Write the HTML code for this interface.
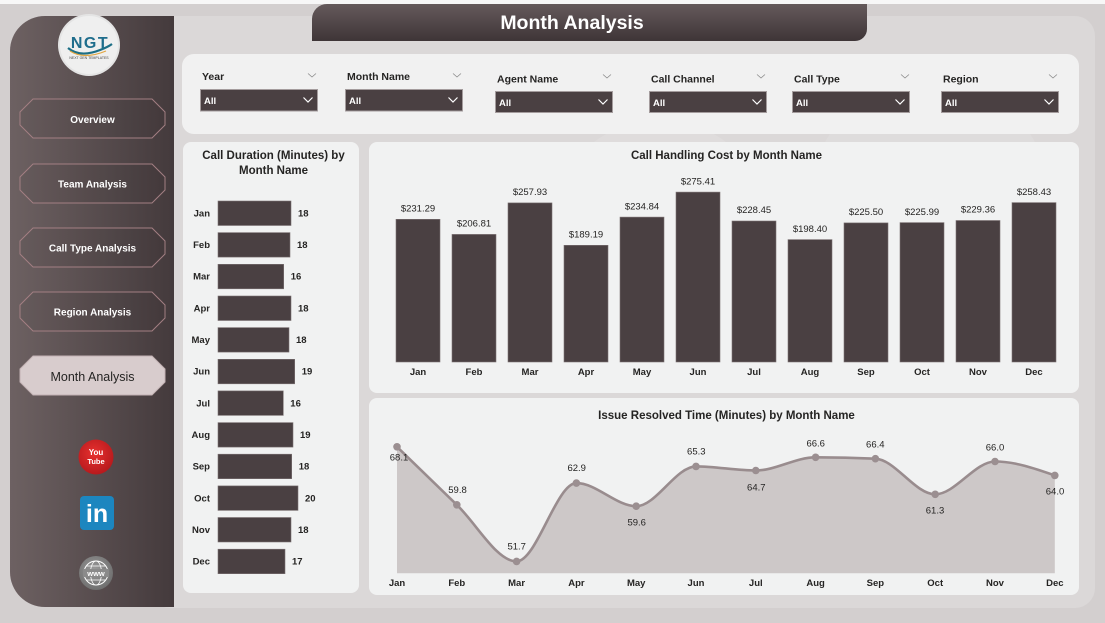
<!DOCTYPE html>
<html>
<head>
<meta charset="utf-8">
<style>
  html,body{margin:0;padding:0;width:1105px;height:623px;overflow:hidden;background:#d3cfcf;}
  svg{display:block;font-family:"Liberation Sans",Arial,sans-serif;}
  .lbl{font-size:10.5px;font-weight:bold;fill:#252423;}
  .all{font-size:9.5px;font-weight:bold;fill:#ffffff;}
  .ttl{font-size:11.5px;font-weight:bold;fill:#252423;}
  .ax{font-size:9.5px;font-weight:bold;fill:#252423;}
  .val{font-size:9.5px;fill:#252423;}
  .vb{font-size:9.5px;font-weight:bold;fill:#252423;}
  .btn{font-size:10px;font-weight:bold;fill:#ffffff;}
</style>
</head>
<body>
<svg width="1105" height="623" viewBox="0 0 1105 623" xmlns="http://www.w3.org/2000/svg">
  <defs>
    <linearGradient id="side" x1="0" y1="0" x2="1" y2="0">
      <stop offset="0" stop-color="#6d6162"/>
      <stop offset="1" stop-color="#443a3c"/>
    </linearGradient>
    <linearGradient id="ban" x1="0" y1="0" x2="0" y2="1">
      <stop offset="0" stop-color="#655a5b"/>
      <stop offset="1" stop-color="#3e3537"/>
    </linearGradient>
    <radialGradient id="yt" cx="0.45" cy="0.4" r="0.6">
      <stop offset="0" stop-color="#e8302f"/>
      <stop offset="1" stop-color="#b71a1d"/>
    </radialGradient>
    <radialGradient id="www" cx="0.45" cy="0.4" r="0.6">
      <stop offset="0" stop-color="#9a9a9a"/>
      <stop offset="1" stop-color="#6f6f6f"/>
    </radialGradient>
  </defs>

  <!-- background -->
  <rect x="0" y="0" width="1105" height="623" fill="#d3cfcf"/>
  <rect x="0" y="0" width="1105" height="4" fill="#f7f7f7"/>
  <!-- main container -->
  <rect x="150" y="16" width="945" height="592" rx="20" fill="#dbd8d8"/>

  <!-- faint decorative circles -->
  <circle cx="660" cy="230" r="110" fill="#ffffff" opacity="0.12"/>
  <circle cx="930" cy="200" r="120" fill="#ffffff" opacity="0.10"/>

  <!-- sidebar -->
  <path d="M45,16 H174 V607 H45 A35,35 0 0 1 10,572 V51 A35,35 0 0 1 45,16 Z" fill="url(#side)"/>

  <!-- logo -->
  <circle cx="89" cy="45" r="31" fill="#e4e4e4"/>
  <circle cx="89" cy="45" r="29" fill="#efefef"/>
  <path d="M68,48 Q80,58 100,50 Q108,47 112,44" stroke="#1d6f86" stroke-width="2.2" fill="none"/>
  <path d="M70,51 Q84,60 106,51" stroke="#e2a640" stroke-width="1.2" fill="none"/>
  <text x="90" y="48" text-anchor="middle" font-size="16" font-weight="bold" fill="#1f6d8c" letter-spacing="1.5">NGT</text>
  <text x="89" y="59" text-anchor="middle" font-size="3.5" fill="#444">NEXT GEN TEMPLATES</text>

  <!-- title banner -->
  <path d="M327,4 H867 V29 A12,12 0 0 1 855,41 H312 V19 A15,15 0 0 1 327,4 Z" fill="url(#ban)"/>
  <text x="572" y="29" text-anchor="middle" font-size="19.5" font-weight="bold" fill="#ffffff">Month Analysis</text>

  <!-- nav buttons -->
  <g stroke="#a37f83" stroke-width="1" fill="rgba(0,0,0,0.04)">
    <polygon points="33,99 152,99 165,112 165,125 152,138 33,138 20,125 20,112"/>
    <polygon points="33,164 152,164 165,177 165,190 152,203 33,203 20,190 20,177"/>
    <polygon points="33,228 152,228 165,241 165,254 152,267 33,267 20,254 20,241"/>
    <polygon points="33,292 152,292 165,305 165,318 152,331 33,331 20,318 20,305"/>
  </g>
  <polygon points="33,356 152,356 165,369 165,382 152,395 33,395 20,382 20,369" fill="#d8cccd" stroke="#c2b1b3" stroke-width="1"/>
  <text class="btn" x="92.5" y="123" text-anchor="middle">Overview</text>
  <text class="btn" x="92.5" y="187.5" text-anchor="middle">Team Analysis</text>
  <text class="btn" x="92.5" y="251.5" text-anchor="middle">Call Type Analysis</text>
  <text class="btn" x="92.5" y="315.5" text-anchor="middle">Region Analysis</text>
  <text x="92.5" y="381" text-anchor="middle" font-size="12.5" fill="#252423">Month Analysis</text>

  <!-- social icons -->
  <circle cx="96" cy="457" r="17.5" fill="url(#yt)"/>
  <text x="96" y="455" text-anchor="middle" font-size="8" font-weight="bold" fill="#fff">You</text>
  <text x="96" y="464" text-anchor="middle" font-size="7.5" font-weight="bold" fill="#fff">Tube</text>
  <rect x="80" y="496" width="34" height="34" rx="4" fill="#1c86bf"/>
  <text x="97" y="522" text-anchor="middle" font-size="25" font-weight="bold" fill="#fff">in</text>
  <circle cx="96" cy="573" r="17" fill="url(#www)"/>
  <circle cx="96" cy="573" r="12" fill="none" stroke="#fff" stroke-width="1"/>
  <ellipse cx="96" cy="573" rx="5.5" ry="12" fill="none" stroke="#fff" stroke-width="0.8"/>
  <line x1="84" y1="573" x2="108" y2="573" stroke="#fff" stroke-width="0.7"/>
  <line x1="86" y1="566" x2="106" y2="566" stroke="#fff" stroke-width="0.7"/>
  <line x1="86" y1="580" x2="106" y2="580" stroke="#fff" stroke-width="0.7"/>
  <rect x="83" y="569" width="26" height="8" fill="#8a8a8a"/>
  <text x="96" y="576" text-anchor="middle" font-size="7.5" font-weight="bold" fill="#fff">www</text>

  <!-- filter panel -->
  <rect x="182" y="54" width="897" height="80" rx="12" fill="#f1f1f1"/>
  <g>
    <text class="lbl" x="202" y="80">Year</text>
    <polyline points="308,73.5 312,77 316,73.5" fill="none" stroke="#8a8a8a" stroke-width="0.8"/>
    <rect x="200.5" y="89.5" width="117" height="21.5" fill="#4a4042" stroke="#a49c9d" stroke-width="1"/>
    <text class="all" x="204" y="104">All</text>
    <polyline points="303.5,97.5 308,102 312.5,97.5" fill="none" stroke="#fff" stroke-width="1.2"/>

    <text class="lbl" x="347" y="80">Month Name</text>
    <polyline points="453,73.5 457,77 461,73.5" fill="none" stroke="#8a8a8a" stroke-width="0.8"/>
    <rect x="345.5" y="89.5" width="117" height="21.5" fill="#4a4042" stroke="#a49c9d" stroke-width="1"/>
    <text class="all" x="349" y="104">All</text>
    <polyline points="448.5,97.5 453,102 457.5,97.5" fill="none" stroke="#fff" stroke-width="1.2"/>

    <text class="lbl" x="497" y="82.5">Agent Name</text>
    <polyline points="603,74.5 607,78 611,74.5" fill="none" stroke="#8a8a8a" stroke-width="0.8"/>
    <rect x="495.5" y="91.5" width="117" height="21" fill="#4a4042" stroke="#a49c9d" stroke-width="1"/>
    <text class="all" x="499" y="106">All</text>
    <polyline points="598.5,99.5 603,104 607.5,99.5" fill="none" stroke="#fff" stroke-width="1.2"/>

    <text class="lbl" x="651" y="82.5">Call Channel</text>
    <polyline points="757,74.5 761,78 765,74.5" fill="none" stroke="#8a8a8a" stroke-width="0.8"/>
    <rect x="649.5" y="91.5" width="117" height="21" fill="#4a4042" stroke="#a49c9d" stroke-width="1"/>
    <text class="all" x="653" y="106">All</text>
    <polyline points="752.5,99.5 757,104 761.5,99.5" fill="none" stroke="#fff" stroke-width="1.2"/>

    <text class="lbl" x="794" y="82.5">Call Type</text>
    <polyline points="901,74.5 905,78 909,74.5" fill="none" stroke="#8a8a8a" stroke-width="0.8"/>
    <rect x="792.5" y="91.5" width="117" height="21" fill="#4a4042" stroke="#a49c9d" stroke-width="1"/>
    <text class="all" x="796" y="106">All</text>
    <polyline points="895.5,99.5 900,104 904.5,99.5" fill="none" stroke="#fff" stroke-width="1.2"/>

    <text class="lbl" x="943" y="82.5">Region</text>
    <polyline points="1049,74.5 1053,78 1057,74.5" fill="none" stroke="#8a8a8a" stroke-width="0.8"/>
    <rect x="941.5" y="91.5" width="117" height="21" fill="#4a4042" stroke="#a49c9d" stroke-width="1"/>
    <text class="all" x="945" y="106">All</text>
    <polyline points="1044.5,99.5 1049,104 1053.5,99.5" fill="none" stroke="#fff" stroke-width="1.2"/>
  </g>

  <!-- left panel: horizontal bars -->
  <rect x="183" y="142" width="176" height="451" rx="8" fill="#f1f2f2"/>
  <text class="ttl" x="273.5" y="159" text-anchor="middle">Call Duration (Minutes) by</text>
  <text class="ttl" x="273.5" y="174" text-anchor="middle">Month Name</text>
  <g fill="#4a4042" stroke="#7d7375" stroke-width="0.6">
    <rect x="218" y="201" width="73" height="24.5"/>
    <rect x="218" y="232.6" width="72" height="24.5"/>
    <rect x="218" y="264.3" width="65.7" height="24.5"/>
    <rect x="218" y="296" width="73" height="24.5"/>
    <rect x="218" y="327.6" width="71" height="24.5"/>
    <rect x="218" y="359.3" width="76.7" height="24.5"/>
    <rect x="218" y="390.9" width="65.3" height="24.5"/>
    <rect x="218" y="422.6" width="75" height="24.5"/>
    <rect x="218" y="454.2" width="73.7" height="24.5"/>
    <rect x="218" y="485.9" width="80" height="24.5"/>
    <rect x="218" y="517.5" width="73" height="24.5"/>
    <rect x="218" y="549.2" width="67" height="24.5"/>
  </g>
  <g text-anchor="end">
    <text class="ax" x="210" y="216.5">Jan</text>
    <text class="ax" x="210" y="248">Feb</text>
    <text class="ax" x="210" y="279.7">Mar</text>
    <text class="ax" x="210" y="311.4">Apr</text>
    <text class="ax" x="210" y="343">May</text>
    <text class="ax" x="210" y="374.7">Jun</text>
    <text class="ax" x="210" y="406.3">Jul</text>
    <text class="ax" x="210" y="438">Aug</text>
    <text class="ax" x="210" y="469.6">Sep</text>
    <text class="ax" x="210" y="501.3">Oct</text>
    <text class="ax" x="210" y="532.9">Nov</text>
    <text class="ax" x="210" y="564.6">Dec</text>
  </g>
  <g>
    <text class="vb" x="298" y="216.5">18</text>
    <text class="vb" x="297" y="248">18</text>
    <text class="vb" x="290.7" y="279.7">16</text>
    <text class="vb" x="298" y="311.4">18</text>
    <text class="vb" x="296" y="343">18</text>
    <text class="vb" x="301.7" y="374.7">19</text>
    <text class="vb" x="290.3" y="406.3">16</text>
    <text class="vb" x="300" y="438">19</text>
    <text class="vb" x="298.7" y="469.6">18</text>
    <text class="vb" x="305" y="501.3">20</text>
    <text class="vb" x="298" y="532.9">18</text>
    <text class="vb" x="292" y="564.6">17</text>
  </g>

  <!-- bar chart panel -->
  <rect x="369" y="142" width="710" height="251" rx="8" fill="#f1f2f2"/>
  <text class="ttl" x="726.5" y="159" text-anchor="middle">Call Handling Cost by Month Name</text>
  <g fill="#4a4042" stroke="#7d7375" stroke-width="0.6">
    <rect x="396" y="219.3" width="44" height="142.7"/>
    <rect x="452" y="234.4" width="44" height="127.6"/>
    <rect x="508" y="202.9" width="44" height="159.1"/>
    <rect x="564" y="245.3" width="44" height="116.7"/>
    <rect x="620" y="217.1" width="44" height="144.9"/>
    <rect x="676" y="192.1" width="44" height="169.9"/>
    <rect x="732" y="221" width="44" height="141"/>
    <rect x="788" y="239.6" width="44" height="122.4"/>
    <rect x="844" y="222.9" width="44" height="139.1"/>
    <rect x="900" y="222.6" width="44" height="139.4"/>
    <rect x="956" y="220.5" width="44" height="141.5"/>
    <rect x="1012" y="202.6" width="44" height="159.4"/>
  </g>
  <g text-anchor="middle">
    <text class="val" x="418" y="211.5">$231.29</text>
    <text class="val" x="474" y="226.6">$206.81</text>
    <text class="val" x="530" y="195.1">$257.93</text>
    <text class="val" x="586" y="237.5">$189.19</text>
    <text class="val" x="642" y="209.3">$234.84</text>
    <text class="val" x="698" y="184.3">$275.41</text>
    <text class="val" x="754" y="213.2">$228.45</text>
    <text class="val" x="810" y="231.8">$198.40</text>
    <text class="val" x="866" y="215.1">$225.50</text>
    <text class="val" x="922" y="214.8">$225.99</text>
    <text class="val" x="978" y="212.7">$229.36</text>
    <text class="val" x="1034" y="194.8">$258.43</text>
  </g>
  <g text-anchor="middle">
    <text class="ax" x="418" y="375">Jan</text>
    <text class="ax" x="474" y="375">Feb</text>
    <text class="ax" x="530" y="375">Mar</text>
    <text class="ax" x="586" y="375">Apr</text>
    <text class="ax" x="642" y="375">May</text>
    <text class="ax" x="698" y="375">Jun</text>
    <text class="ax" x="754" y="375">Jul</text>
    <text class="ax" x="810" y="375">Aug</text>
    <text class="ax" x="866" y="375">Sep</text>
    <text class="ax" x="922" y="375">Oct</text>
    <text class="ax" x="978" y="375">Nov</text>
    <text class="ax" x="1034" y="375">Dec</text>
  </g>

  <!-- line chart panel -->
  <rect x="369" y="398" width="710" height="197" rx="8" fill="#f1f2f2"/>
  <text class="ttl" x="726.5" y="419" text-anchor="middle">Issue Resolved Time (Minutes) by Month Name</text>
  <path d="M397,446.8 C416.93,466.25 436.87,485.7 456.8,504.8 C476.73,523.9 496.67,561.4 516.6,561.4 C536.53,561.4 556.47,483.1 576.4,483.1 C596.33,483.1 616.27,506.2 636.2,506.2 C656.13,506.2 676.07,466.4 696,466.4 C715.93,466.4 735.87,470.5 755.8,470.5 C775.73,470.5 795.67,457.3 815.6,457.3 C835.53,457.3 855.47,457.77 875.4,458.7 C895.33,459.63 915.27,494.3 935.2,494.3 C955.13,494.3 975.07,461.5 995,461.5 C1014.93,461.5 1034.87,468.45 1054.8,475.4 L1054.8,573.3 L397,573.3 Z" fill="#cdc8c8"/>
  <path d="M397,446.8 C416.93,466.25 436.87,485.7 456.8,504.8 C476.73,523.9 496.67,561.4 516.6,561.4 C536.53,561.4 556.47,483.1 576.4,483.1 C596.33,483.1 616.27,506.2 636.2,506.2 C656.13,506.2 676.07,466.4 696,466.4 C715.93,466.4 735.87,470.5 755.8,470.5 C775.73,470.5 795.67,457.3 815.6,457.3 C835.53,457.3 855.47,457.77 875.4,458.7 C895.33,459.63 915.27,494.3 935.2,494.3 C955.13,494.3 975.07,461.5 995,461.5 C1014.93,461.5 1034.87,468.45 1054.8,475.4" fill="none" stroke="#998c8e" stroke-width="2.6"/>
  <g fill="#9b8f91">
    <circle cx="397" cy="446.8" r="3.8"/>
    <circle cx="456.8" cy="504.8" r="3.8"/>
    <circle cx="516.6" cy="561.4" r="3.8"/>
    <circle cx="576.4" cy="483.1" r="3.8"/>
    <circle cx="636.2" cy="506.2" r="3.8"/>
    <circle cx="696" cy="466.4" r="3.8"/>
    <circle cx="755.8" cy="470.5" r="3.8"/>
    <circle cx="815.6" cy="457.3" r="3.8"/>
    <circle cx="875.4" cy="458.7" r="3.8"/>
    <circle cx="935.2" cy="494.3" r="3.8"/>
    <circle cx="995" cy="461.5" r="3.8"/>
    <circle cx="1054.8" cy="475.4" r="3.8"/>
  </g>
  <g text-anchor="middle">
    <text class="val" x="399" y="460.5">68.1</text>
    <text class="val" x="457.5" y="493">59.8</text>
    <text class="val" x="516.7" y="549.5">51.7</text>
    <text class="val" x="576.7" y="471">62.9</text>
    <text class="val" x="636.7" y="525.5">59.6</text>
    <text class="val" x="696.3" y="454.5">65.3</text>
    <text class="val" x="756.3" y="490.5">64.7</text>
    <text class="val" x="815.7" y="446.5">66.6</text>
    <text class="val" x="875.3" y="447.5">66.4</text>
    <text class="val" x="935" y="513.5">61.3</text>
    <text class="val" x="995" y="450.5">66.0</text>
    <text class="val" x="1055" y="494.5">64.0</text>
  </g>
  <g text-anchor="middle">
    <text class="ax" x="397" y="586">Jan</text>
    <text class="ax" x="456.8" y="586">Feb</text>
    <text class="ax" x="516.6" y="586">Mar</text>
    <text class="ax" x="576.4" y="586">Apr</text>
    <text class="ax" x="636.2" y="586">May</text>
    <text class="ax" x="696" y="586">Jun</text>
    <text class="ax" x="755.8" y="586">Jul</text>
    <text class="ax" x="815.6" y="586">Aug</text>
    <text class="ax" x="875.4" y="586">Sep</text>
    <text class="ax" x="935.2" y="586">Oct</text>
    <text class="ax" x="995" y="586">Nov</text>
    <text class="ax" x="1054.8" y="586">Dec</text>
  </g>
</svg>
</body>
</html>
